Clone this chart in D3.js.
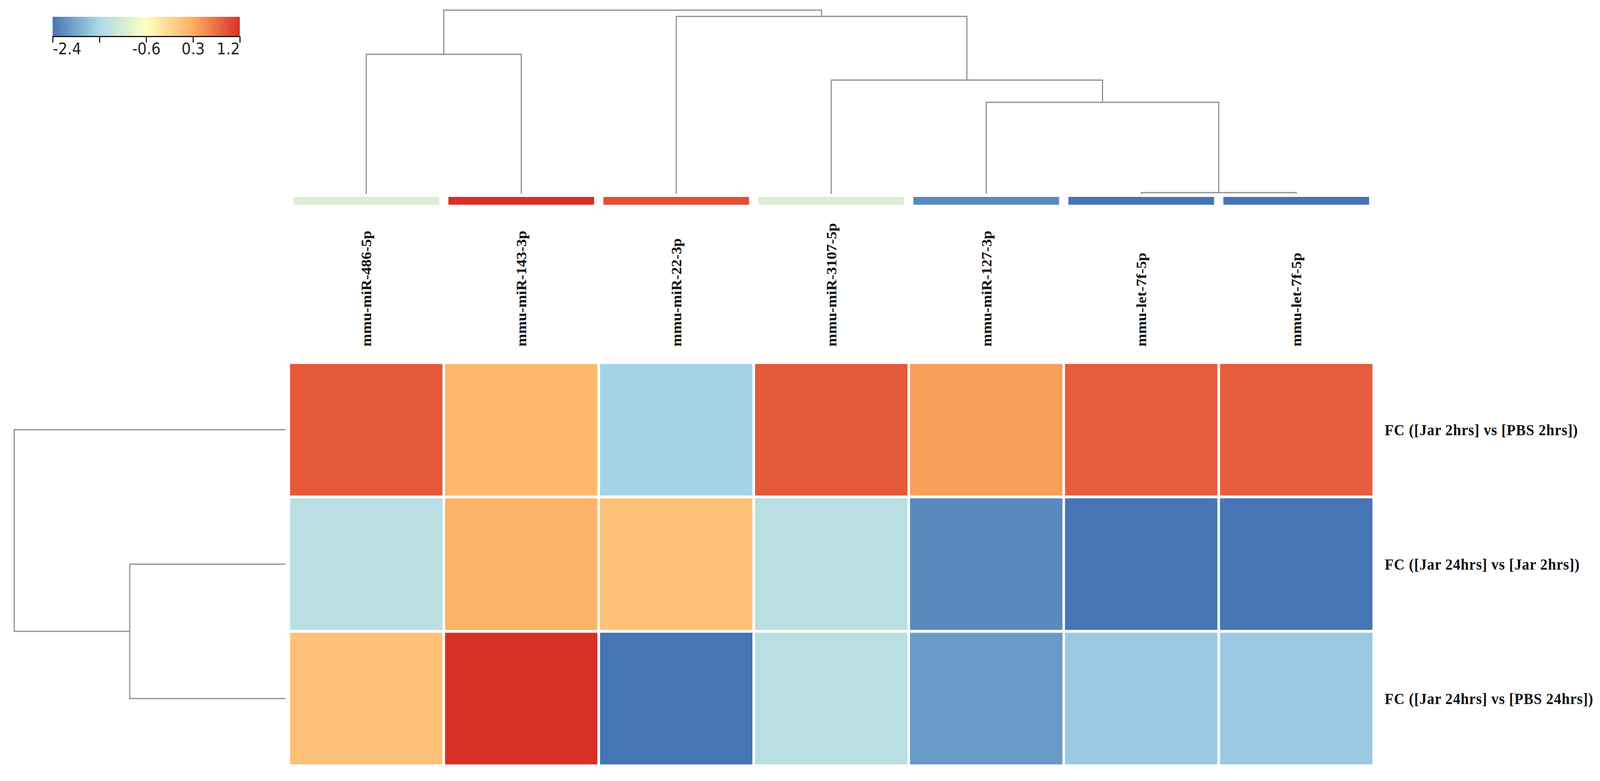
<!DOCTYPE html>
<html>
<head>
<meta charset="utf-8">
<script src="https://cdn.jsdelivr.net/npm/d3@7"></script>
<style>
  html, body { margin: 0; padding: 0; background: #fff; overflow: hidden; }
  #heat { display: block; width: 100vw; height: 100vh; }
  .colLabel, .rowLabel { font-family: "Liberation Serif", "Times New Roman", serif; font-weight: bold; fill: #111; }
  .legendAxis text { font-family: "DejaVu Sans", sans-serif; fill: #222; }
</style>
</head>
<body>
<svg id="heat" viewBox="0 0 4377 1999" preserveAspectRatio="none"></svg>
<script>
const svg = d3.select("#heat");

// columns (miRNAs) in dendrogram order; the last two share a name, so keys get an index
const mirnaText = ["mmu-miR-486-5p", "mmu-miR-143-3p", "mmu-miR-22-3p", "mmu-miR-3107-5p",
                   "mmu-miR-127-3p", "mmu-let-7f-5p", "mmu-let-7f-5p"];
const mirnas = mirnaText.map((d, i) => `${i}:${d}`);
const comparisons = ["FC ([Jar 2hrs] vs [PBS 2hrs])", "FC ([Jar 24hrs] vs [Jar 2hrs])", "FC ([Jar 24hrs] vs [PBS 24hrs])"];

// log fold changes, one array per comparison (row)
const fc2h = [0.91, 0.19, -1.55, 0.91, 0.4, 0.88, 0.88];
const fc24vs2 = [-1.35, 0.25, 0.08, -1.35, -2.22, -2.4, -2.4];
const fc24h = [0.08, 1.2, -2.4, -1.35, -2.07, -1.64, -1.64];
const rowValues = [fc2h, fc24vs2, fc24h];

// column annotation track (same colour scale)
const annotValues = [-1.0, 1.2, 0.97, -1.0, -2.22, -2.4, -2.4];

// legend ticks / colour stops
const legendTicks = [-2.4, -1.5, -0.6, 0.3, 1.2];
const legendTickLabels = ["-2.4", "", "-0.6", "0.3", "1.2"];
const legendColors = ["#4575b4", "#abd9e9", "#ffffbf", "#fdae61", "#d73027"];

// dendrogram trees (heights = merge distance)
const colTree = { h: 4.70, children: [
  { h: 3.57, children: [{ leaf: 0 }, { leaf: 1 }] },
  { h: 4.54, children: [
    { leaf: 2 },
    { h: 2.91, children: [
      { leaf: 3 },
      { h: 2.34, children: [
        { leaf: 4 },
        { h: 0.03, children: [{ leaf: 5 }, { leaf: 6 }] }
      ] }
    ] }
  ] }
] };
const rowTree = { h: 7.42, children: [
  { leaf: 0 },
  { h: 4.26, children: [{ leaf: 1 }, { leaf: 2 }] }
] };

// scales
const x = d3.scaleBand().domain(mirnas).range([790, 3758]);
const y = d3.scaleBand().domain(comparisons).range([928, 1960]);

const color = d3.scaleLinear()
    .domain(legendTicks)
    .range(legendColors)
    .clamp(true);

// heatmap cells
const cells = [];
rowValues.forEach((vals, r) => vals.forEach((v, c) => cells.push({ row: comparisons[r], col: mirnas[c], v })));

svg.append("g").selectAll("rect")
  .data(cells)
  .join("rect")
    .attr("x", d => x(d.col))
    .attr("y", d => y(d.row))
    .attr("width", x.bandwidth())
    .attr("height", y.bandwidth())
    .attr("fill", d => color(d.v))
    .attr("stroke", "#fff")
    .attr("stroke-width", 7);

// annotation bar
const annBand = d3.scaleBand().domain(mirnas).range([790, 3758]).paddingInner(0.06).paddingOuter(0.03);
svg.append("g").selectAll("rect")
  .data(annotValues)
  .join("rect")
    .attr("x", (d, i) => annBand(mirnas[i]))
    .attr("y", 504)
    .attr("width", annBand.bandwidth())
    .attr("height", 20)
    .attr("fill", d => color(d));

// column labels
svg.append("g").selectAll("text")
  .data(mirnaText)
  .join("text")
    .attr("class", "colLabel")
    .attr("transform", (d, i) => `translate(${x(mirnas[i]) + x.bandwidth() / 2},887) rotate(-90)`)
    .attr("dy", "0.35em")
    .attr("font-size", 39)
    .text(d => d);

// row labels
svg.append("g").selectAll("text")
  .data(comparisons)
  .join("text")
    .attr("class", "rowLabel")
    .attr("x", 3788)
    .attr("y", d => y(d) + y.bandwidth() / 2)
    .attr("dy", "0.35em")
    .attr("font-size", 40)
    .attr("letter-spacing", 1)
    .text(d => d);

// dendrograms
function layoutTree(tree, leafPos) {
  const root = d3.hierarchy(tree);
  root.eachAfter(n => {
    n.h = n.data.leaf !== undefined ? 0 : n.data.h;
    n.pos = n.data.leaf !== undefined ? leafPos(n.data.leaf) : d3.mean(n.children, c => c.pos);
  });
  return root;
}

const colH = d3.scaleLinear().domain([0, 4.70]).range([496, 26]);
const colRoot = layoutTree(colTree, i => x(mirnas[i]) + x.bandwidth() / 2);
const dendroStyle = g => g.attr("fill", "none").attr("stroke", "#8c8c8c").attr("stroke-width", 3);

svg.append("g").call(dendroStyle).selectAll("path")
  .data(colRoot.descendants().filter(n => n.children))
  .join("path")
    .attr("d", n => {
      const [a, b] = n.children;
      return `M${a.pos},${colH(a.h)}V${colH(n.h)}H${b.pos}V${colH(b.h)}`;
    });

const rowH = d3.scaleLinear().domain([0, 7.42]).range([781, 39]);
const rowRoot = layoutTree(rowTree, i => y(comparisons[i]) + y.bandwidth() / 2);

svg.append("g").call(dendroStyle).selectAll("path")
  .data(rowRoot.descendants().filter(n => n.children))
  .join("path")
    .attr("d", n => {
      const [a, b] = n.children;
      return `M${rowH(a.h)},${a.pos}H${rowH(n.h)}V${b.pos}H${rowH(b.h)}`;
    });

// color legend
const legendX = d3.scaleLinear().domain([-2.4, 1.2]).range([144, 656]);
const grad = svg.append("defs").append("linearGradient").attr("id", "legendGrad");
grad.selectAll("stop")
  .data(legendTicks)
  .join("stop")
    .attr("offset", d => (legendX(d) - 144) / 512)
    .attr("stop-color", d => color(d));

svg.append("rect")
  .attr("x", 144).attr("y", 43)
  .attr("width", 512).attr("height", 50)
  .attr("fill", "url(#legendGrad)");

const legendAxis = d3.axisBottom(legendX)
  .tickValues(legendTicks)
  .tickFormat((d, i) => legendTickLabels[i])
  .tickSize(16)
  .tickSizeOuter(0);

const lg = svg.append("g")
  .attr("class", "legendAxis")
  .attr("transform", "translate(0,93)")
  .call(legendAxis);
lg.select(".domain").attr("stroke", "#111").attr("stroke-width", 3);
lg.selectAll(".tick line").attr("stroke", "#111").attr("stroke-width", 3);
lg.selectAll(".tick text")
  .attr("font-size", 40)
  .attr("y", 18)
  .attr("text-anchor", (d, i) => i === 0 ? "start" : (i === legendTicks.length - 1 ? "end" : "middle"));
</script>
</body>
</html>
